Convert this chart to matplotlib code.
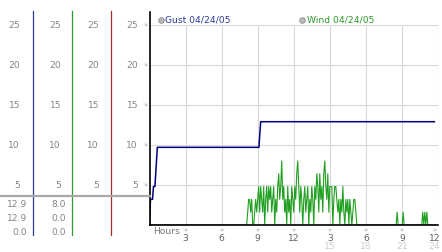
import matplotlib
matplotlib.use('Agg')

import matplotlib.pyplot as plt
import matplotlib.transforms as mtrans

plt.rcParams['font.family'] = ['DejaVu Sans']

# ── Data ───────────────────────────────────────────────────────────────
gust_hours = [0.0, 0.08, 0.25, 0.33, 0.45, 0.55, 0.65, 9.10, 9.25, 23.70]
gust_mph = [0.0, 3.2, 3.2, 4.8, 4.8, 7.2, 9.7, 9.7, 12.9, 12.9]

# wind sampled every 5 min starting at 08:00
wind_start = 8.0
wind_step = 5 / 60
wind_mph = [
    0, 0, 1.6, 3.2, 3.2, 1.6, 3.2, 0, 0, 1.6,
    3.2, 1.6, 3.2, 4.8, 1.6, 4.8, 3.2, 1.6, 4.8, 0,
    3.2, 4.8, 1.6, 4.8, 3.2, 4.8, 1.6, 3.2, 4.8, 0,
    3.2, 1.6, 4.8, 6.4, 3.2, 4.8, 8.0, 3.2, 4.8, 1.6,
    3.2, 0, 4.8, 1.6, 3.2, 0, 4.8, 3.2, 1.6, 4.8,
    3.2, 6.4, 8.0, 4.8, 1.6, 4.8, 3.2, 0, 3.2, 4.8,
    1.6, 3.2, 4.8, 0, 3.2, 1.6, 4.8, 3.2, 0, 4.8,
    3.2, 6.4, 4.8, 1.6, 6.4, 3.2, 4.8, 1.6, 6.4, 8.0,
    4.8, 3.2, 6.4, 1.6, 4.8, 4.8, 4.8, 0, 3.2, 4.8,
    4.8, 3.2, 1.6, 3.2, 0, 3.2, 1.6, 4.8, 1.6, 0,
    3.2, 1.6, 3.2, 0, 3.2, 1.6, 0, 1.6, 3.2, 3.2,
    1.6, 0, 0,
]
spike_hours = [20.6, 21.1, 22.73, 22.9, 23.07]
spike_mph = [1.6, 1.6, 1.6, 1.6, 1.6]
wind_end = 23.8

gust_stats = ['12.9', '12.9', '0.0']
wind_stats = ['8.0', '0.0', '0.0']
cursor_mph = 3.66

y_ticks = [5, 10, 15, 20, 25]
x_ticks = [3, 6, 9, 12, 15, 18, 21, 24]
x_labels = ['3', '6', '9', '12', '3', '6', '9', '12']
x_labels2 = ['', '', '', '', '15', '18', '21', '24']

# build the wind line
wind_h = [0.0]
wind_v = [0.0]
for i, v in enumerate(wind_mph):
    wind_h.append(wind_start + i * wind_step)
    wind_v.append(v)
for t, v in zip(spike_hours, spike_mph):
    wind_h += [t - wind_step, t, t + wind_step]
    wind_v += [0.0, v, 0.0]
wind_h.append(wind_end)
wind_v.append(0.0)

# ── Figure ─────────────────────────────────────────────────────────────
W, H = 442, 253
fig = plt.figure(figsize=(W / 100, H / 100), dpi=100)
fig.patch.set_facecolor('white')

ax = fig.add_axes([149.5 / W, (H - 226) / H, (438 - 149.5) / W, (226 - 13) / H])
ax.set_xlim(0, 24)
ax.set_ylim(0, 26.6)
ax.set_xticks([])
ax.set_yticks([])
for s in ['top', 'right']:
    ax.spines[s].set_visible(False)
for s in ['left', 'bottom']:
    ax.spines[s].set_color('black')
    ax.spines[s].set_linewidth(1.2)
    ax.spines[s].set_zorder(5)

# overlay in pixel coordinates, drawn above the main axes
over = fig.add_axes([0, 0, 1, 1])
over.set_xlim(0, W)
over.set_ylim(H, 0)
over.axis('off')
over.patch.set_alpha(0)
over.set_zorder(10)

grid_c = '#d9d9d9'
ax.hlines(y_ticks, 0, 24, color=grid_c, lw=0.8, zorder=1)
ax.vlines(x_ticks, 0, 25, color=grid_c, lw=0.8, zorder=1)

ax.plot(wind_h, wind_v, color='#1f9f1f', lw=0.8, zorder=3)
ax.plot(gust_hours, gust_mph, color='#000080', lw=1.1, zorder=4)

# blended transforms: pixel x / data y, data x / pixel y
tr_py = mtrans.blended_transform_factory(over.transData, ax.transData)
tr_xp = mtrans.blended_transform_factory(ax.transData, over.transData)

tick_c = '#858585'
mark_c = '#a0a0a0'
fs = 6.6

# side scale columns
col_x = [33.3, 72.3, 111.3]
col_c = ['#2a3f9f', '#2a9f2a', '#a03030']
for x, c in zip(col_x, col_c):
    over.plot([x, x], [12, 236], color=c, lw=0.9, zorder=2)

label_right = [20, 61, 99, 138]
for xr in label_right:
    for yv in y_ticks:
        over.text(xr, yv, str(yv), transform=tr_py, ha='right', va='center',
                  fontsize=fs, color=tick_c)
for yv in y_ticks:
    over.text(145, yv, '»', transform=tr_py, ha='center', va='center',
              fontsize=5, color=mark_c)

# cursor line
over.plot([0, 150], [cursor_mph, cursor_mph], transform=tr_py,
          color='#a8a8a8', lw=1.6, zorder=3, clip_on=False)

stat_y = [204.3, 218.3, 232.3]
for y, g, w in zip(stat_y, gust_stats, wind_stats):
    over.text(27, y, g, ha='right', va='center', fontsize=fs, color=tick_c)
    over.text(66, y, w, ha='right', va='center', fontsize=fs, color=tick_c)

# x axis labels (last one pulled in to stay inside the image)
over.text(153, 231.5, 'Hours', ha='left', va='center', fontsize=fs, color='#777777')
for xt, l1, l2 in zip(x_ticks, x_labels, x_labels2):
    xl = min(xt, 23.7)
    over.text(xl, 230, '»', transform=tr_xp, ha='center', va='center',
              fontsize=5, color=mark_c)
    over.text(xl, 238.5, l1, transform=tr_xp, ha='center', va='center',
              fontsize=fs, color='#606060')
    if l2:
        over.text(xl, 246.5, l2, transform=tr_xp, ha='center', va='center',
                  fontsize=fs, color='#cccccc')

# legend
for cx, tx, label, c in [(160.7, 165, 'Gust 04/24/05', '#2b3a9c'),
                         (302.3, 306.7, 'Wind 04/24/05', '#2a9a2a')]:
    over.plot([cx], [20.5], marker='o', ms=4, mfc='#bbbbbb', mec='#888888',
              mew=0.6, zorder=6)
    over.text(tx, 20.3, label, ha='left', va='center', fontsize=fs, color=c)

fig.savefig('out.png', dpi=100)
plt.close(fig)
